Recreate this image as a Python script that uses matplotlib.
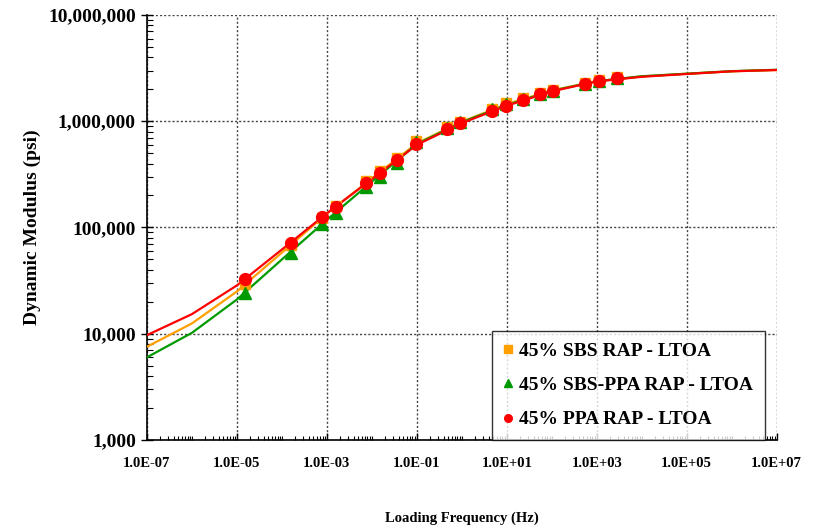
import numpy as np
import matplotlib
matplotlib.use("Agg")
import matplotlib.pyplot as plt
from matplotlib.ticker import LogLocator, FixedLocator, FuncFormatter, NullFormatter

plt.rcParams['font.family'] = ['Liberation Serif', 'DejaVu Serif']
plt.rcParams['font.weight'] = 'bold'

# =========================
# DATA
# =========================
# master curves, one value per decade 1e-7 .. 1e7
curve_freq = [1e-7, 1e-6, 1e-5, 1e-4, 1e-3, 1e-2, 1e-1, 1e0, 1e1, 1e2, 1e3, 1e4, 1e5, 1e6, 1e7]
sbs_curve = [7550, 12500, 25000, 58000, 135000, 290000, 620000, 990000, 1450000,
             1950000, 2380000, 2640000, 2800000, 2950000, 3030000]
sbs_ppa_curve = [6000, 10200, 21000, 50000, 118000, 270000, 610000, 980000, 1420000,
                 1930000, 2380000, 2650000, 2800000, 2960000, 3050000]
ppa_curve = [9700, 15300, 28500, 62000, 136000, 285000, 600000, 960000, 1400000,
             1910000, 2370000, 2620000, 2785000, 2950000, 3035000]

# measured points (reduced frequency, Hz)
point_freq = [1.5e-5, 1.56e-4, 7.6e-4, 1.56e-3, 7.4e-3, 1.48e-2, 3.7e-2, 9.5e-2, 0.48,
              0.93, 4.7, 9.5, 23, 55, 109, 560, 1107, 2770]
sbs_pts = [29400, 68000, 124000, 158000, 272000, 340000, 450000, 650000, 880000,
           990000, 1300000, 1480000, 1640000, 1850000, 1980000, 2290000, 2420000, 2600000]
sbs_ppa_pts = [24000, 58000, 107000, 136000, 239000, 300000, 402000, 638000, 870000,
               980000, 1290000, 1440000, 1620000, 1800000, 1940000, 2250000, 2400000, 2560000]
ppa_pts = [32500, 71000, 125600, 155000, 264000, 328000, 432000, 607000, 840000,
           957000, 1250000, 1393000, 1585000, 1795000, 1926000, 2243000, 2392000, 2570000]

labels = ["45% SBS RAP - LTOA", "45% SBS-PPA RAP - LTOA", "45% PPA RAP - LTOA"]
colors = ["#FF9F00", "#009A00", "#FF0000"]
markers = ["s", "^", "o"]
msizes = [6.5, 8, 8.5]

# =========================
# PLOT
# =========================
fig = plt.figure(figsize=(8.21, 5.31), dpi=100)
ax = fig.add_axes([0.179, 0.1714, 0.767, 0.8004])

curves = [sbs_curve, sbs_ppa_curve, ppa_curve]
points = [sbs_pts, sbs_ppa_pts, ppa_pts]
for curve, pts, lab, c, m, ms in zip(curves, points, labels, colors, markers, msizes):
    ax.plot(curve_freq, curve, color=c, lw=1.6, zorder=3)
    ax.plot(point_freq, pts, ls="none", marker=m, ms=ms, color=c, mec=c, zorder=4)
    ax.plot([], [], ls="none", marker=m, ms=5.5, color=c, label=lab)

ax.set_xscale("log")
ax.set_yscale("log")
ax.set_xlim(1e-7, 1e7)
ax.set_ylim(1e3, 1e7)

ax.xaxis.set_major_locator(FixedLocator([10.0 ** e for e in range(-7, 8, 2)]))
ax.xaxis.set_minor_locator(LogLocator(base=10, subs=np.arange(1, 10), numticks=40))
ax.xaxis.set_minor_formatter(NullFormatter())
ax.xaxis.set_major_formatter(FuncFormatter(
    lambda v, p: "1.0E%+03d" % int(round(np.log10(v)))))
ax.yaxis.set_major_locator(LogLocator(base=10, numticks=10))
ax.yaxis.set_minor_locator(LogLocator(base=10, subs=np.arange(2, 10), numticks=40))
ax.yaxis.set_minor_formatter(NullFormatter())
ax.yaxis.set_major_formatter(FuncFormatter(lambda v, p: "{:,.0f}".format(v)))

ax.tick_params(axis="x", which="major", direction="in", length=5, width=1,
               labelsize=10.5, pad=12)
ax.tick_params(axis="x", which="minor", direction="in", length=3, width=0.8)
ax.tick_params(axis="y", which="major", direction="inout", length=8, width=1,
               labelsize=14, pad=4)
ax.tick_params(axis="y", which="minor", direction="in", length=4, width=0.8)
for lab in ax.get_xticklabels() + ax.get_yticklabels():
    lab.set_fontweight("bold")

ax.grid(True, which="major", ls=(0, (1.5, 1.5)), color="#444444", lw=1.0)
ax.spines["top"].set_visible(False)
ax.spines["right"].set_visible(False)
ax.spines["left"].set_linewidth(1.2)
ax.spines["bottom"].set_linewidth(1.2)

ax.set_xlabel("Loading Frequency (Hz)", fontsize=10.5, fontweight="bold", labelpad=30)
ax.set_ylabel("Dynamic Modulus (psi)", fontsize=14, fontweight="bold", labelpad=5)

leg = ax.legend(loc="lower right", bbox_to_anchor=(0.981, 0.0), frameon=True,
                fancybox=False, edgecolor="black", fontsize=14, handlelength=0.5,
                handletextpad=0.3, labelspacing=0.85, borderpad=0.6,
                borderaxespad=0)
leg.get_frame().set_linewidth(1.0)
leg.set_zorder(5)
for t in leg.get_texts():
    t.set_fontweight("bold")

fig.savefig("out.png", dpi=100)
